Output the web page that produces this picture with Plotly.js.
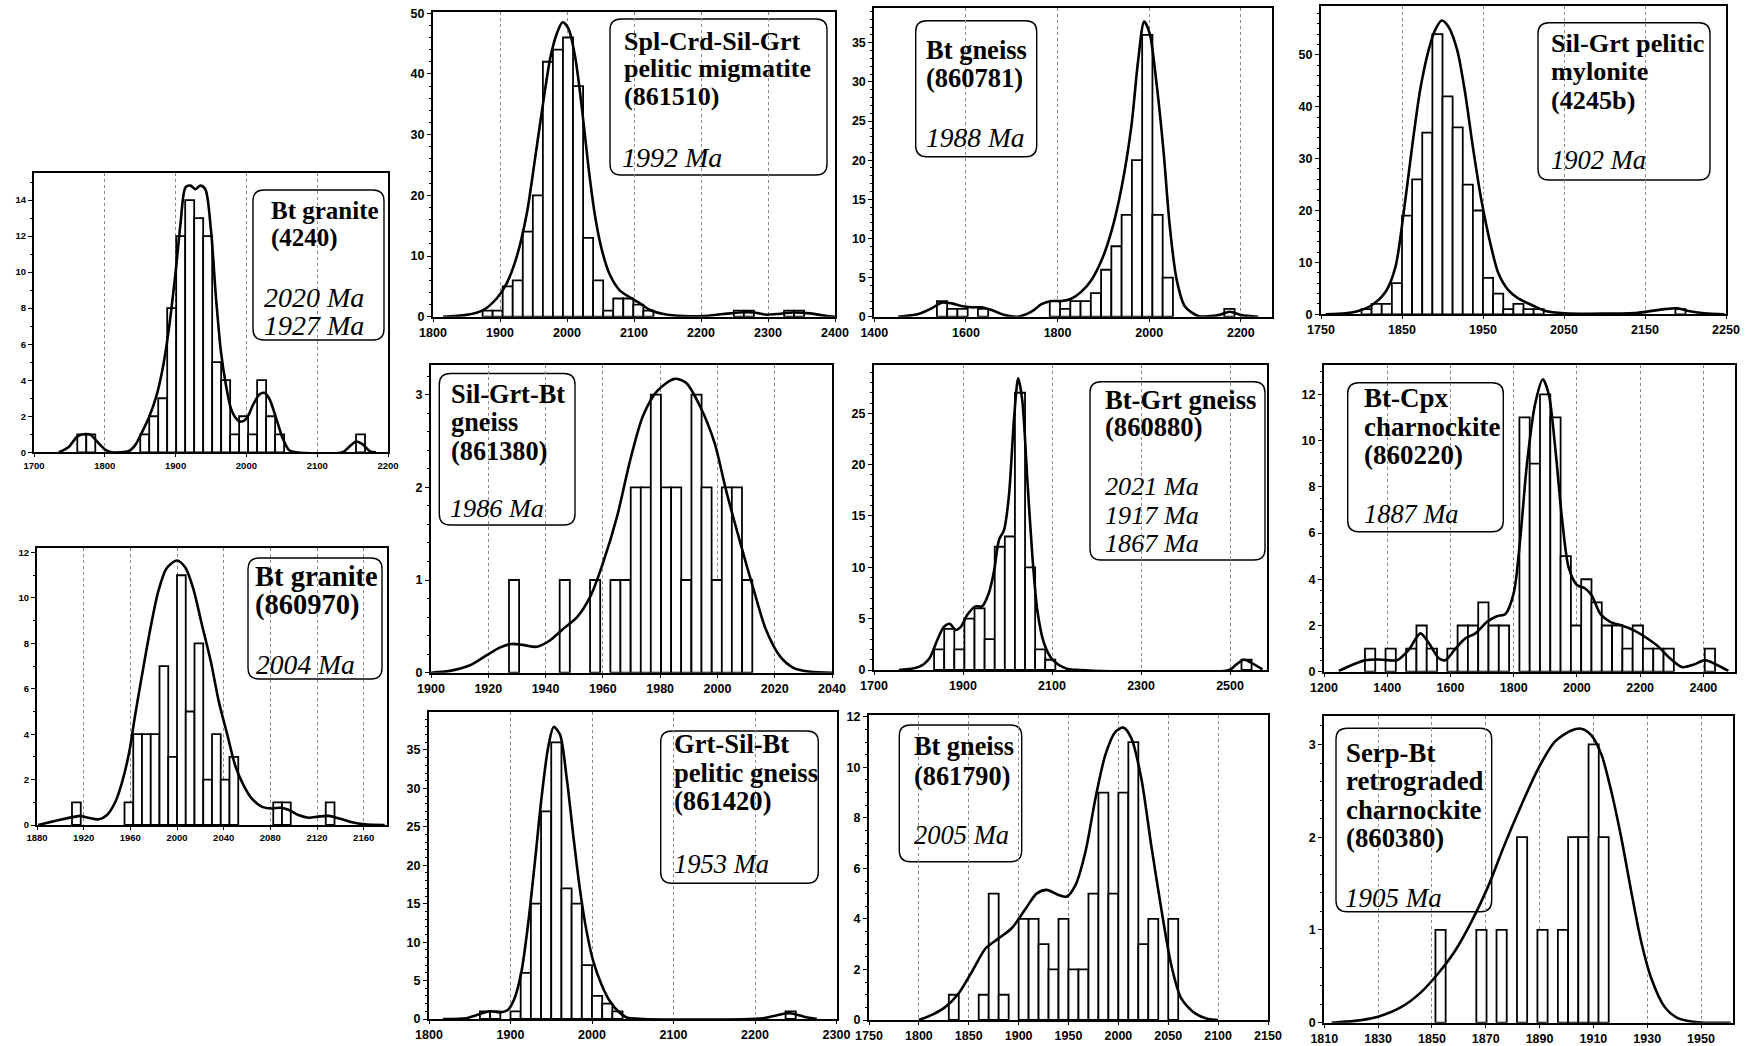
<!DOCTYPE html>
<html>
<head>
<meta charset="utf-8">
<script src="https://cdn.plot.ly/plotly-3.0.1.min.js"></script>
<style>html,body{margin:0;padding:0;background:#fff;}#chart{width:1746px;height:1046px;}</style>
</head>
<body>
<div id="chart"></div>
<script>
// ---------------- DATA ----------------
// Panel 1: Bt granite (4240)
const p1Title = ['Bt granite', '(4240)'];
const p1Ages = ['2020 Ma', '1927 Ma'];
const p1BinAge = [1767.5,1780.2,1856.4,1869.1,1881.8,1894.5,1907.2,1919.9,1932.6,1945.3,1958,1970.7,1983.4,1996.1,2008.8,2021.5,2034.2,2046.9,2161.2];
const p1Count = [1,1,1,2,3,8,12,14,13,12,5,4,1,2,1,4,2,1,1];
const p1CurveAge = [1735,1749,1761,1770,1780,1789,1801,1810,1834,1843,1853,1862,1872,1881,1890,1900,1907,1914,1921,1928,1935,1942,1950,1957,1964,1971,1978,1985,1992,2000,2009,2018,2025,2032,2042,2051,2060,2070,2136,2145,2155,2164,2174,2183];
const p1CurveY = [0,0.3,0.87,1.0,0.97,0.6,0.13,0,0.07,0.4,1.15,1.9,3.0,4.5,6.7,10,12.7,14.7,14.8,14.6,14.8,14.6,12.3,8.6,5.6,3.75,2.45,1.9,1.7,1.86,2.6,3.2,3.3,3.0,1.9,0.8,0.13,0,0,0.3,0.6,0.45,0.07,0];

// Panel 2: Bt granite (860970)
const p2Title = ['Bt granite', '(860970)'];
const p2Ages = ['2004 Ma'];
const p2BinAge = [1913.75,1958.75,1966.25,1973.75,1981.25,1988.75,1996.25,2003.75,2011.25,2018.75,2026.25,2033.75,2041.25,2048.75,2086.25,2093.75,2131.25];
const p2Count = [1,1,4,4,4,7,3,11,5,8,2,4,2,3,1,1,1];
const p2CurveAge = [1881,1899,1913,1917,1924,1933,1940,1947,1953,1959,1964,1970,1977,1984,1991,2000,2007,2014,2021,2029,2036,2043,2050,2057,2064,2073,2081,2089,2096,2104,2113,2121,2130,2139,2150,2161,2178];
const p2CurveY = [0,0.22,0.37,0.4,0.32,0.25,0.44,1.0,1.9,3.2,4.8,6.6,8.6,10.3,11.3,11.65,11.35,10.4,8.9,7.2,5.4,4.0,2.6,1.76,1.17,0.8,0.73,0.76,0.66,0.44,0.32,0.37,0.4,0.29,0.12,0.03,0];

// Panel 3: Spl-Crd-Sil-Grt pelitic migmatite (861510)
const p3Title = ['Spl-Crd-Sil-Grt', 'pelitic migmatite', '(861510)'];
const p3Ages = ['1992 Ma'];
const p3BinAge = [1881.5,1896.5,1911.5,1926.5,1941.5,1956.5,1971.5,1986.5,2001.5,2016.5,2031.5,2046.5,2061.5,2076.5,2091.5,2106.5,2121.5,2256.5,2271.5,2331.5,2346.5];
const p3Count = [1,1,5,6,14,20,42,44,46,38,13,6,1,3,3,2,1,1,1,1,1];
const p3CurveAge = [1815,1850,1875,1895,1910,1925,1940,1952,1965,1975,1985,1993.5,2002,2012,2022,2032,2042,2052,2064,2079,2094,2109,2124,2144,2174,2203,2233,2258,2278,2298,2313,2338,2363,2388,2400];
const p3CurveY = [0,0.3,1.1,3.0,5.5,9.9,17,25.8,35.7,42.6,46.7,48.5,47.5,42.9,34.6,24.7,16.5,11,6.9,4.3,3.2,2.2,1.1,0.44,0.1,0.1,0.44,0.7,0.7,0.33,0.44,0.7,0.55,0.1,0];

// Panel 4: Bt gneiss (860781)
const p4Title = ['Bt gneiss', '(860781)'];
const p4Ages = ['1988 Ma'];
const p4BinAge = [1547.8,1570.2,1592.6,1637.4,1794.2,1816.6,1839,1861.4,1883.8,1906.2,1928.6,1951,1973.4,1995.8,2018.2,2040.6,2175];
const p4Count = [2,1,1,1,2,1,2,2,3,6,9,13,20,36,13,5,1];
const p4CurveAge = [1452,1496,1525,1547,1569,1590,1612,1634,1656,1685,1714,1743,1765,1787,1809,1830,1852,1874,1896,1918,1940,1961,1976,1989,2001,2016,2031,2045,2060,2078,2107,2151,2176,2201,2238];
const p4CurveY = [0,0.34,1.06,1.8,1.7,1.36,1.2,1.2,0.85,0.2,0,0.64,1.6,2.0,2.0,2.3,3.2,4.7,7.2,11,16.6,24.3,32.8,37.7,36.2,29.8,21.3,11.5,4.7,1.3,0.1,0.2,0.64,0.2,0];

// Panel 5: Sil-Grt pelitic mylonite (4245b)
const p5Title = ['Sil-Grt pelitic', 'mylonite', '(4245b)'];
const p5Ages = ['1902 Ma'];
const p5BinAge = [1806.25,1818.75,1831.25,1843.75,1856.25,1868.75,1881.25,1893.75,1906.25,1918.75,1931.25,1943.75,1956.25,1968.75,1981.25,1993.75,2006.25,2018.75,2193.75];
const p5Count = [1,2,2,6,19,26,35,54,42,36,25,20,7,4,1,2,1,1,1];
const p5CurveAge = [1756,1780,1797,1813,1830,1842,1852,1862,1872.5,1883,1891,1899,1907,1918,1928,1938,1948,1959,1969,1981,1993,2010,2026,2051,2100,2141,2174,2190,2202,2223,2248];
const p5CurveY = [0,0.2,0.7,1.8,4.4,9.2,19.5,31.7,43.3,51,54.8,56.6,55.5,51,42.6,31.7,22,13.7,7.9,4.7,3.1,1.8,0.7,0.2,0.13,0.3,1.0,1.16,0.7,0.2,0];

// Panel 6: Sil-Grt-Bt gneiss (861380)
const p6Title = ['Sil-Grt-Bt', 'gneiss', '(861380)'];
const p6Ages = ['1986 Ma'];
const p6BinAge = [1929.0,1946.7,1957.3,1964.4,1967.9,1971.5,1975.0,1978.5,1982.1,1985.6,1989.1,1992.7,1996.2,1999.8,2003.3,2006.8,2010.4];
const p6Count = [1,1,1,1,1,2,2,3,2,2,1,3,2,1,2,2,1];
const p6CurveAge = [1900,1906.6,1913.6,1919.5,1924,1928,1932,1937,1941.6,1946,1951,1955.6,1960,1965,1969.6,1974,1979,1985,1989,1994,1999,2003,2008,2012.7,2017,2022,2026.7,2032.5,2040];
const p6CurveY = [0,0.02,0.08,0.19,0.27,0.31,0.3,0.28,0.35,0.47,0.6,0.82,1.18,1.69,2.3,2.77,3.04,3.17,3.13,2.87,2.48,1.97,1.4,0.89,0.46,0.17,0.05,0.01,0];

// Panel 7: Bt-Grt gneiss (860880)
const p7Title = ['Bt-Grt gneiss', '(860880)'];
const p7Ages = ['2021 Ma', '1917 Ma', '1867 Ma'];
const p7BinAge = [1846.4,1869.1,1891.8,1914.5,1937.2,1959.9,1982.6,2005.3,2028,2050.7,2073.4,2096.1,2537];
const p7Count = [2,4,2,5,6,3,12,13,27,10,2,1,1];
const p7CurveAge = [1756,1801,1824,1842,1857,1870,1883.5,1895,1910,1928,1943,1958,1970,1981,1992,2003,2015,2024,2033,2045,2056,2067,2082,2101,2131,2161,2498,2513,2531,2550,2573];
const p7CurveY = [0,0.3,1.1,2.9,4.2,4.5,3.9,4.2,5.4,6.2,6.2,7.5,9.7,12.7,13.6,16.9,24.7,28.4,26.3,18.2,11,5.8,2.6,1.0,0.16,0,0,0.5,1.0,0.65,0.06];

// Panel 8: Bt-Cpx charnockite (860220)
const p8Title = ['Bt-Cpx', 'charnockite', '(860220)'];
const p8Ages = ['1887 Ma'];
const p8BinAge = [1345.8,1410.9,1476.1,1508.7,1541.2,1606.4,1638.9,1671.5,1704.1,1736.6,1769.2,1834.4,1866.9,1899.5,1932.1,1964.6,1997.2,2029.8,2062.3,2094.9,2127.5,2160.1,2192.6,2225.2,2257.8,2290.3,2420.6];
const p8Count = [1,1,1,2,1,1,2,2,3,2,2,11,9,12,11,5,2,4,3,2,2,1,2,1,1,1,1];
const p8CurveAge = [1247,1290,1332,1368,1400,1432,1468,1505,1532,1563,1584,1616,1647,1679,1716,1747,1774,1800,1821,1842,1868,1892,1911,1932,1953,1974,2000,2026,2047,2074,2105,2142,2179,2216,2258,2289,2332,2368,2405,2442,2479];
const p8CurveY = [0.03,0.3,0.5,0.53,0.5,0.5,0.94,1.66,1.23,0.58,0.5,1.0,1.44,1.66,2.16,2.4,2.5,3.4,5.8,9.0,11.6,12.65,12.0,9.6,6.6,4.5,3.75,3.6,3.3,2.5,2.16,2.0,1.8,1.5,1.08,0.65,0.2,0.3,0.5,0.3,0.04];

// Panel 9: Grt-Sil-Bt pelitic gneiss (861420)
const p9Title = ['Grt-Sil-Bt', 'pelitic gneiss', '(861420)'];
const p9Ages = ['1953 Ma'];
const p9BinAge = [1868.75,1881.25,1906.25,1918.75,1931.25,1943.75,1956.25,1968.75,1981.25,1993.75,2006.25,2018.75,2031.25,2243.75];
const p9Count = [1,1,1,6,15,27,36,17,15,7,3,2,1,1];
const p9CurveAge = [1817,1846,1858,1875,1887,1897,1905,1913.5,1922,1930,1938,1946,1953,1960.7,1969,1977,1985,1993.4,2001.6,2012,2022,2032,2042.6,2063,2210,2227,2243,2260,2276];
const p9CurveY = [0,0.1,0.5,1.0,0.87,1.2,2.7,6.2,12.7,20.5,28.7,35.2,38,37,31.3,23.9,17,11.4,7.5,4.4,2.3,1.0,0.2,0,0.1,0.5,0.74,0.3,0];

// Panel 10: Bt gneiss (861790)
const p10Title = ['Bt gneiss', '(861790)'];
const p10Ages = ['2005 Ma'];
const p10BinAge = [1835,1865,1875,1885,1905,1915,1925,1935,1945,1955,1965,1975,1985,1995,2005,2015,2025,2035,2055];
const p10Count = [1,1,5,1,4,4,3,2,4,2,2,5,9,5,9,11,3,4,4];
const p10CurveAge = [1800,1813,1827,1840,1853,1867,1880,1893,1907,1918,1928,1940,1948,1957,1967,1977,1987,1997,2005,2013,2023,2033,2043,2053,2063,2077,2090,2100];
const p10CurveY = [0,0.2,0.53,1.06,1.9,2.84,3.23,3.63,4.4,5.0,5.15,4.95,4.88,5.34,6.66,8.77,10.5,11.4,11.57,11.15,9.56,6.9,4.4,2.18,0.86,0.26,0.04,0];

// Panel 11: Serp-Bt retrograded charnockite (860380)
const p11Title = ['Serp-Bt', 'retrograded', 'charnockite', '(860380)'];
const p11Ages = ['1905 Ma'];
const p11BinAge = [1853.2,1868.4,1875.9,1883.5,1891.1,1898.7,1902.5,1906.3,1910.1,1913.8];
const p11Count = [1,1,1,2,1,1,2,2,3,2];
const p11CurveAge = [1812.7,1821.4,1830,1838.7,1846,1852.3,1858.5,1864.7,1870.9,1877,1883.3,1889.5,1895.7,1901.8,1905.5,1909.2,1913,1916.7,1920.4,1924.1,1927.8,1931.5,1936.5,1941.4,1948.9,1961];
const p11CurveY = [0,0.02,0.065,0.17,0.33,0.53,0.77,1.09,1.47,1.92,2.35,2.74,3.03,3.15,3.17,3.1,2.89,2.49,1.99,1.41,0.87,0.48,0.17,0.05,0.004,0];

// ---------------- LAYOUT CONFIG ----------------
const W = 1746, H = 1046;
const panels = [
 {bins:p1BinAge, counts:p1Count, bw:12.7, cx:p1CurveAge, cy:p1CurveY, title:p1Title, ages:p1Ages,
  px:[34,388], py:[173,452.3], xr:[1700,2200], xdt:100, yr:[0,15.5], ydt:2, ymin:1, tf:9.5,
  box:[253,190,384,340], tX:270, tB:[220,248], tS:25, aX:263, aB:[307.5,335.5], aS:28},
 {bins:p2BinAge, counts:p2Count, bw:7.5, cx:p2CurveAge, cy:p2CurveY, title:p2Title, ages:p2Ages,
  px:[37,387], py:[548,825], xr:[1880,2180], xdt:40, yr:[0,12.2], ydt:2, ymin:1, tf:9.5,
  box:[248,558,382,679], tX:254, tB:[587,616], tS:28.5, aX:255, aB:[675], aS:27.6},
 {bins:p3BinAge, counts:p3Count, bw:15, cx:p3CurveAge, cy:p3CurveY, title:p3Title, ages:p3Ages,
  px:[433,835], py:[12,316.7], xr:[1800,2400], xdt:100, yr:[0,50.2], ydt:10, ymin:2, tf:12.5,
  box:[610,19,827,175], tX:623, tB:[51.7,78.5,106], tS:26, aX:621, aB:[167.5], aS:28},
 {bins:p4BinAge, counts:p4Count, bw:22.4, cx:p4CurveAge, cy:p4CurveY, title:p4Title, ages:p4Ages,
  px:[874.3,1272], py:[8.3,316.7], xr:[1400,2268], xdt:200, yr:[0,39.4], ydt:5, ymin:1, tf:12.5,
  box:[915.7,20.7,1036.7,156.7], tX:925, tB:[60.5,88.5], tS:26.5, aX:925, aB:[148], aS:27.5},
 {bins:p5BinAge, counts:p5Count, bw:12.5, cx:p5CurveAge, cy:p5CurveY, title:p5Title, ages:p5Ages,
  px:[1321,1726], py:[6,314.3], xr:[1750,2250], xdt:100, yr:[0,59.4], ydt:10, ymin:2, tf:12.5,
  box:[1538,22.7,1710,180], tX:1550, tB:[53.3,81.7,110], tS:26.2, aX:1550, aB:[170.5], aS:26.5},
 {bins:p6BinAge, counts:p6Count, bw:3.54, cx:p6CurveAge, cy:p6CurveY, title:p6Title, ages:p6Ages,
  px:[431,832], py:[365,672.7], xr:[1900,2040], xdt:20, yr:[0,3.32], ydt:1, ymin:0.2, tf:12.5,
  box:[439.3,373.5,575,525], tX:450, tB:[404,432.3,461.5], tS:26.3, aX:449.3, aB:[518.5], aS:26.2},
 {bins:p7BinAge, counts:p7Count, bw:22.7, cx:p7CurveAge, cy:p7CurveY, title:p7Title, ages:p7Ages,
  px:[874,1267], py:[365,670], xr:[1700,2583], xdt:200, yr:[0,29.7], ydt:5, ymin:1, tf:12.5,
  box:[1090,381.7,1265,560], tX:1104.3, tB:[410,437.3], tS:26.6, aX:1104.3, aB:[496.7,525,553.5], aS:26.2},
 {bins:p8BinAge, counts:p8Count, bw:32.57, cx:p8CurveAge, cy:p8CurveY, title:p8Title, ages:p8Ages,
  px:[1324,1735], py:[365,671.7], xr:[1200,2500], xdt:200, yr:[0,13.27], ydt:2, ymin:0.5, tf:12.5,
  box:[1347.7,382.7,1503.3,531.7], tX:1363.3, tB:[408.3,437.3,465.5], tS:27, aX:1363.3, aB:[524.5], aS:26.4},
 {bins:p9BinAge, counts:p9Count, bw:12.5, cx:p9CurveAge, cy:p9CurveY, title:p9Title, ages:p9Ages,
  px:[429,836.5], py:[712.3,1019], xr:[1800,2300], xdt:100, yr:[0,39.9], ydt:5, ymin:1, tf:12.5,
  box:[660.7,731,818.3,883.3], tX:673.3, tB:[754,783.3,811], tS:26.6, aX:672.5, aB:[874], aS:26.5},
 {bins:p10BinAge, counts:p10Count, bw:10, cx:p10CurveAge, cy:p10CurveY, title:p10Title, ages:p10Ages,
  px:[869,1268], py:[715,1020], xr:[1750,2150], xdt:50, yr:[0,12.07], ydt:2, ymin:0.5, tf:12.5,
  box:[899.3,725,1021.7,861.7], tX:913.3, tB:[756.5,786], tS:26.3, aX:912.5, aB:[845], aS:26.5},
 {bins:p11BinAge, counts:p11Count, bw:3.79, cx:p11CurveAge, cy:p11CurveY, title:p11Title, ages:p11Ages,
  px:[1324.3,1733.3], py:[715.7,1022.7], xr:[1810,1962], xdt:20, yr:[0,3.31], ydt:1, ymin:0.2, tf:12.5,
  box:[1336,728.3,1491.7,911.7], tX:1345, tB:[763,791.5,820,848.5], tS:26.8, aX:1344, aB:[908.5], aS:27}
];

const SERIF = 'Liberation Serif, Times New Roman, serif';
const SANS = 'Liberation Sans Narrow, Arial Narrow, Liberation Sans, Arial, sans-serif';
const X = p => p / W, Y = p => 1 - p / H;

function roundRect(b, r) {
  const [x0, y0, x1, y1] = b;
  const f = (a, c) => X(a).toFixed(5) + ',' + Y(c).toFixed(5);
  return 'M' + f(x0 + r, y0) + ' L' + f(x1 - r, y0) + ' Q' + f(x1, y0) + ' ' + f(x1, y0 + r) +
    ' L' + f(x1, y1 - r) + ' Q' + f(x1, y1) + ' ' + f(x1 - r, y1) +
    ' L' + f(x0 + r, y1) + ' Q' + f(x0, y1) + ' ' + f(x0, y1 - r) +
    ' L' + f(x0, y0 + r) + ' Q' + f(x0, y0) + ' ' + f(x0 + r, y0) + ' Z';
}

const traces = [];
const layout = {
  width: W, height: H, margin: {l:0, r:0, t:0, b:0},
  paper_bgcolor: 'white', plot_bgcolor: 'rgba(0,0,0,0)',
  showlegend: false, barmode: 'overlay',
  shapes: [], annotations: []
};

panels.forEach((p, i) => {
  const n = i === 0 ? '' : String(i + 1);
  const xa = 'x' + n, ya = 'y' + n;
  traces.push({
    type: 'bar', x: p.bins, y: p.counts, width: p.bw, xaxis: xa, yaxis: ya,
    marker: {color: 'white', line: {color: 'black', width: 1.8}},
    hoverinfo: 'skip'
  });
  traces.push({
    type: 'scatter', mode: 'lines', x: p.cx, y: p.cy, xaxis: xa, yaxis: ya,
    line: {color: 'black', width: 2.6, shape: 'spline', smoothing: 0.8},
    hoverinfo: 'skip'
  });
  layout['xaxis' + n] = {
    domain: [X(p.px[0]), X(p.px[1])], range: p.xr, anchor: ya,
    tick0: p.xr[0], dtick: p.xdt, tickmode: 'linear',
    showgrid: true, gridcolor: '#8a8a8a', griddash: 'dot', gridwidth: 1,
    showline: true, mirror: true, linecolor: 'black', linewidth: 2,
    ticks: 'outside', ticklen: 3, tickcolor: 'black', zeroline: false,
    tickfont: {family: SANS, size: p.tf, color: 'black', weight: 'bold'}
  };
  layout['yaxis' + n] = {
    domain: [Y(p.py[1]), Y(p.py[0])], range: p.yr, anchor: xa,
    tick0: 0, dtick: p.ydt, tickmode: 'linear', showgrid: false,
    showline: true, mirror: true, linecolor: 'black', linewidth: 2,
    ticks: 'outside', ticklen: 4, tickcolor: 'black', zeroline: false,
    minor: {ticks: 'outside', ticklen: 2, dtick: p.ymin, tickcolor: 'black', showgrid: false},
    tickfont: {family: SANS, size: p.tf, color: 'black', weight: 'bold'}
  };
  layout.shapes.push({
    type: 'path', xref: 'paper', yref: 'paper', path: roundRect(p.box, 11),
    fillcolor: 'white', line: {color: 'black', width: 1.4}, layer: 'between'
  });
  p.title.forEach((t, k) => {
    layout.annotations.push({
      xref: 'paper', yref: 'paper', x: X(p.tX), y: Y(p.tB[k] + 0.216 * p.tS),
      xanchor: 'left', yanchor: 'bottom', showarrow: false, borderpad: 0,
      text: '<b>' + t + '</b>', font: {family: SERIF, size: p.tS, color: 'black'}
    });
  });
  p.ages.forEach((t, k) => {
    layout.annotations.push({
      xref: 'paper', yref: 'paper', x: X(p.aX), y: Y(p.aB[k] + 0.216 * p.aS),
      xanchor: 'left', yanchor: 'bottom', showarrow: false, borderpad: 0,
      text: '<i>' + t + '</i>', font: {family: SERIF, size: p.aS, color: 'black'}
    });
  });
});

Plotly.newPlot('chart', traces, layout, {staticPlot: true, displayModeBar: false});
</script>
</body>
</html>
